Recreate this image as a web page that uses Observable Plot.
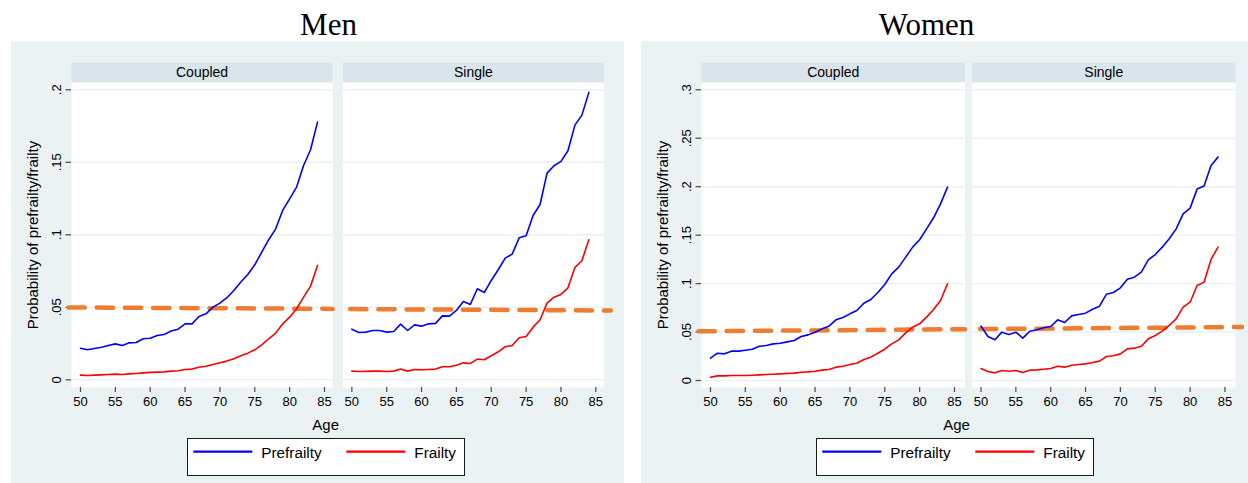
<!DOCTYPE html>
<html><head><meta charset="utf-8">
<script src="https://cdn.jsdelivr.net/npm/d3@7"></script>
<script src="https://cdn.jsdelivr.net/npm/@observablehq/plot@0.6"></script>
<style>
body{margin:0;width:1248px;height:483px;position:relative;overflow:hidden;background:#fff;font-family:"Liberation Sans",Arial,sans-serif;}
.title{position:absolute;font-family:"Liberation Serif","Times New Roman",serif;font-size:31px;line-height:31px;transform:translateX(-50%);white-space:nowrap;color:#000;}
.panel{position:absolute;top:41px;height:442px;background:#eaf2f3;}
.xlab{position:absolute;font-size:15px;line-height:15px;transform:translate(-50%,-50%);white-space:nowrap;}
.legend{position:absolute;width:276px;height:36px;background:#fff;border:1px solid #1a1a1a;}
.legend svg{position:absolute;left:0;top:0;}
</style></head><body>
<div class="title" style="left:328.5px;top:9px">Men</div>
<div class="title" style="left:926.5px;top:9px">Women</div>
<div class="panel" id="men" style="left:11px;width:613px"></div>
<div class="panel" id="women" style="left:641px;width:607px"></div>
<script>
// ---------- data ----------
const ages = [50,51,52,53,54,55,56,57,58,59,60,61,62,63,64,65,66,67,68,69,70,71,72,73,74,75,76,77,78,79,80,81,82,83,84];
const statuses = ["Coupled", "Single"];
const seriesNames = ["Prefrailty", "Frailty"];
const xTicks = [50,55,60,65,70,75,80,85];
const menYTicks = [0, 0.05, 0.1, 0.15, 0.2];
const womenYTicks = [0, 0.05, 0.1, 0.15, 0.2, 0.25, 0.3];
const yTitle = "Probability of prefrailty/frailty";
const xTitle = "Age";

const menCoupledPre = [0.0218,0.0207,0.0216,0.0225,0.0237,0.0248,0.0237,0.0255,0.0257,0.0283,0.0287,0.0306,0.0313,0.0336,0.0349,0.0386,0.0386,0.0437,0.0455,0.0501,0.0529,0.0566,0.0616,0.0674,0.0726,0.0793,0.0880,0.0966,0.1041,0.1168,0.1248,0.1329,0.1478,0.1586,0.1777];
const menCoupledFra = [0.0032,0.0030,0.0032,0.0034,0.0037,0.0039,0.0037,0.0041,0.0044,0.0048,0.0051,0.0053,0.0055,0.0060,0.0062,0.0071,0.0074,0.0087,0.0094,0.0106,0.0117,0.0129,0.0145,0.0166,0.0184,0.0207,0.0241,0.0283,0.0322,0.0386,0.0432,0.0490,0.0570,0.0646,0.0789];
const menSinglePre = [0.0349,0.0326,0.0329,0.0340,0.0340,0.0329,0.0333,0.0384,0.0340,0.0379,0.0370,0.0386,0.0389,0.0441,0.0439,0.0478,0.0540,0.0520,0.0628,0.0602,0.0685,0.0759,0.0839,0.0867,0.0979,0.0993,0.1133,0.1209,0.1425,0.1476,0.1506,0.1579,0.1756,0.1825,0.1982];
const menSingleFra = [0.0060,0.0057,0.0058,0.0060,0.0060,0.0057,0.0060,0.0074,0.0060,0.0071,0.0069,0.0071,0.0074,0.0090,0.0090,0.0101,0.0117,0.0113,0.0143,0.0138,0.0166,0.0193,0.0228,0.0237,0.0290,0.0299,0.0363,0.0414,0.0529,0.0570,0.0589,0.0634,0.0775,0.0821,0.0966];
const womenCoupledPre = [0.0231,0.0282,0.0275,0.0303,0.0303,0.0313,0.0323,0.0354,0.0361,0.0378,0.0385,0.0399,0.0413,0.0454,0.0471,0.0499,0.0533,0.0561,0.0626,0.0650,0.0688,0.0722,0.0798,0.0836,0.0908,0.0991,0.1101,0.1170,0.1273,0.1376,0.1452,0.1565,0.1679,0.1823,0.1995];
const womenCoupledFra = [0.0034,0.0048,0.0048,0.0052,0.0052,0.0052,0.0055,0.0058,0.0062,0.0065,0.0069,0.0072,0.0076,0.0086,0.0089,0.0096,0.0107,0.0114,0.0138,0.0148,0.0165,0.0179,0.0217,0.0241,0.0282,0.0323,0.0378,0.0420,0.0492,0.0550,0.0585,0.0654,0.0733,0.0826,0.0998];
const womenSinglePre = [0.0561,0.0454,0.0420,0.0499,0.0475,0.0499,0.0437,0.0509,0.0523,0.0544,0.0557,0.0626,0.0599,0.0667,0.0681,0.0695,0.0736,0.0767,0.0891,0.0908,0.0956,0.1046,0.1066,0.1118,0.1245,0.1300,0.1376,0.1462,0.1565,0.1720,0.1779,0.1975,0.2006,0.2219,0.2305];
const womenSingleFra = [0.0124,0.0093,0.0079,0.0103,0.0096,0.0103,0.0083,0.0107,0.0110,0.0117,0.0124,0.0148,0.0138,0.0158,0.0165,0.0172,0.0186,0.0200,0.0248,0.0255,0.0275,0.0327,0.0334,0.0354,0.0430,0.0464,0.0509,0.0568,0.0636,0.0757,0.0808,0.0981,0.1015,0.1249,0.1376];

// orange dashed reference line (ends of each facet piece)
const refStatus = ["Coupled", "Coupled", "Single", "Single"];
const menRefAge = [48.28, 86.17, 48.71, 87.15];
const menRefP = [0.0499, 0.0489, 0.0488, 0.0478];
const womenRefAge = [48.28, 86.51, 48.71, 87.44];
const womenRefP = [0.0508, 0.0530, 0.0530, 0.0552];

// ---------- styles ----------
const BLUE = "#0000ff", RED = "#ff0000", ORANGE = "#ed7d31";
const STRIP = "#d9e5eb", GRID = "#e8f0f2", AXIS = "#555";
const fmt = d => d === 0 ? "0" : d3.format(".2~f")(d).replace(/^0/, "");

function rows(status, series, vals) {
  return ages.map((a, i) => ({status, series, age: a, p: vals[i]}));
}

function buildPanel(el, o) {
  const H = 374, mt = 41, mb = 28, ml = 60;
  const frameH = H - mt - mb;
  const data = [
    ...rows("Coupled", "Prefrailty", o.cPre), ...rows("Coupled", "Frailty", o.cFra),
    ...rows("Single", "Prefrailty", o.sPre), ...rows("Single", "Frailty", o.sFra)
  ];
  const ref = refStatus.map((s, i) => ({status: s, age: o.refAge[i], p: o.refP[i]}));
  const rangeW = o.width - ml - o.marginRight;
  const step = (rangeW + o.gap) / 2;
  const svg = Plot.plot({
    width: o.width, height: H,
    marginLeft: ml, marginRight: o.marginRight, marginTop: mt, marginBottom: mb,
    style: {background: "transparent", fontFamily: "'Liberation Sans', Arial, sans-serif", fontSize: "13px", color: "#000", overflow: "visible"},
    fx: {domain: statuses, paddingInner: o.gap / step, paddingOuter: 0, axis: null, round: false},
    x: {domain: o.xDomain},
    y: {domain: o.yDomain},
    marks: [
      Plot.frame({fill: STRIP, insetTop: -20, insetBottom: frameH}),
      Plot.frame({fill: "white"}),
      Plot.gridY(o.yTicks, {stroke: GRID, strokeOpacity: 1, strokeWidth: 1.4}),
      Plot.text(statuses, {fx: d => d, text: d => d, frameAnchor: "top", lineAnchor: "middle", dy: -10, fontSize: 14}),
      Plot.axisY(o.yTicks, {anchor: "left", tickFormat: fmt, tickRotate: -90, tickSize: 5.5, tickPadding: 5.5, line: true, stroke: AXIS, strokeWidth: 1.3, fontSize: 13, label: null}),
      Plot.axisX(xTicks, {anchor: "bottom", tickSize: 5, line: true, stroke: AXIS, strokeWidth: 1.3, fontSize: 13, label: null}),
      Plot.text([yTitle], {fx: () => "Coupled", text: d => d, frameAnchor: "left", textAnchor: "middle", lineAnchor: "middle", rotate: -90, dx: -38, fontSize: 15}),
      Plot.line(ref.filter(d => d.status === "Coupled"), {fx: "status", x: "age", y: "p", stroke: ORANGE, strokeWidth: 4.5, strokeDasharray: "16.3,11.9"}),
      Plot.line(ref.filter(d => d.status === "Single"), {fx: "status", x: "age", y: "p", stroke: ORANGE, strokeWidth: 4.5, strokeDasharray: "16.3,11.9", strokeDashoffset: o.dashOffset}),
      Plot.line(data.filter(d => d.series === "Prefrailty"), {fx: "status", x: "age", y: "p", stroke: BLUE, strokeWidth: 1.6}),
      Plot.line(data.filter(d => d.series === "Frailty"), {fx: "status", x: "age", y: "p", stroke: RED, strokeWidth: 1.6})
    ]
  });
  svg.style.position = "absolute";
  svg.style.left = "0px";
  svg.style.top = "0px";
  el.appendChild(svg);

  const xl = document.createElement("div");
  xl.className = "xlab";
  xl.style.left = o.ageX + "px";
  xl.style.top = "383px";
  xl.textContent = xTitle;
  el.appendChild(xl);

  const lg = document.createElement("div");
  lg.className = "legend";
  lg.style.left = o.legendX + "px";
  lg.style.top = "397px";
  const ns = "http://www.w3.org/2000/svg";
  const ls = document.createElementNS(ns, "svg");
  ls.setAttribute("width", 276); ls.setAttribute("height", 36);
  const items = [{name: seriesNames[0], color: BLUE, x: 5.3}, {name: seriesNames[1], color: RED, x: 158.3}];
  items.forEach(it => {
    const ln = document.createElementNS(ns, "line");
    ln.setAttribute("x1", it.x); ln.setAttribute("x2", it.x + 59);
    ln.setAttribute("y1", 12.6); ln.setAttribute("y2", 12.6);
    ln.setAttribute("stroke", it.color); ln.setAttribute("stroke-width", 2.2);
    ls.appendChild(ln);
    const tx = document.createElementNS(ns, "text");
    tx.setAttribute("x", it.x + 68); tx.setAttribute("y", 18.6);
    tx.setAttribute("font-size", 15.3);
    tx.setAttribute("font-family", "'Liberation Sans', Arial, sans-serif");
    tx.textContent = it.name;
    ls.appendChild(tx);
  });
  lg.appendChild(ls);
  el.appendChild(lg);
}

buildPanel(document.getElementById("men"), {
  width: 613, marginRight: 20.5, gap: 10.2,
  xDomain: [48.71, 86.17], yDomain: [-0.0053, 0.2050], yTicks: menYTicks,
  cPre: menCoupledPre, cFra: menCoupledFra, sPre: menSinglePre, sFra: menSingleFra,
  refAge: menRefAge, refP: menRefP, dashOffset: 20.9,
  ageX: 314.7, legendX: 175.7
});
buildPanel(document.getElementById("women"), {
  width: 607, marginRight: 13, gap: 7,
  xDomain: [48.71, 86.51], yDomain: [-0.0072, 0.3075], yTicks: womenYTicks,
  cPre: womenCoupledPre, cFra: womenCoupledFra, sPre: womenSinglePre, sFra: womenSingleFra,
  refAge: womenRefAge, refP: womenRefP, dashOffset: 20.2,
  ageX: 315.5, legendX: 175.2
});
</script>
</body></html>
